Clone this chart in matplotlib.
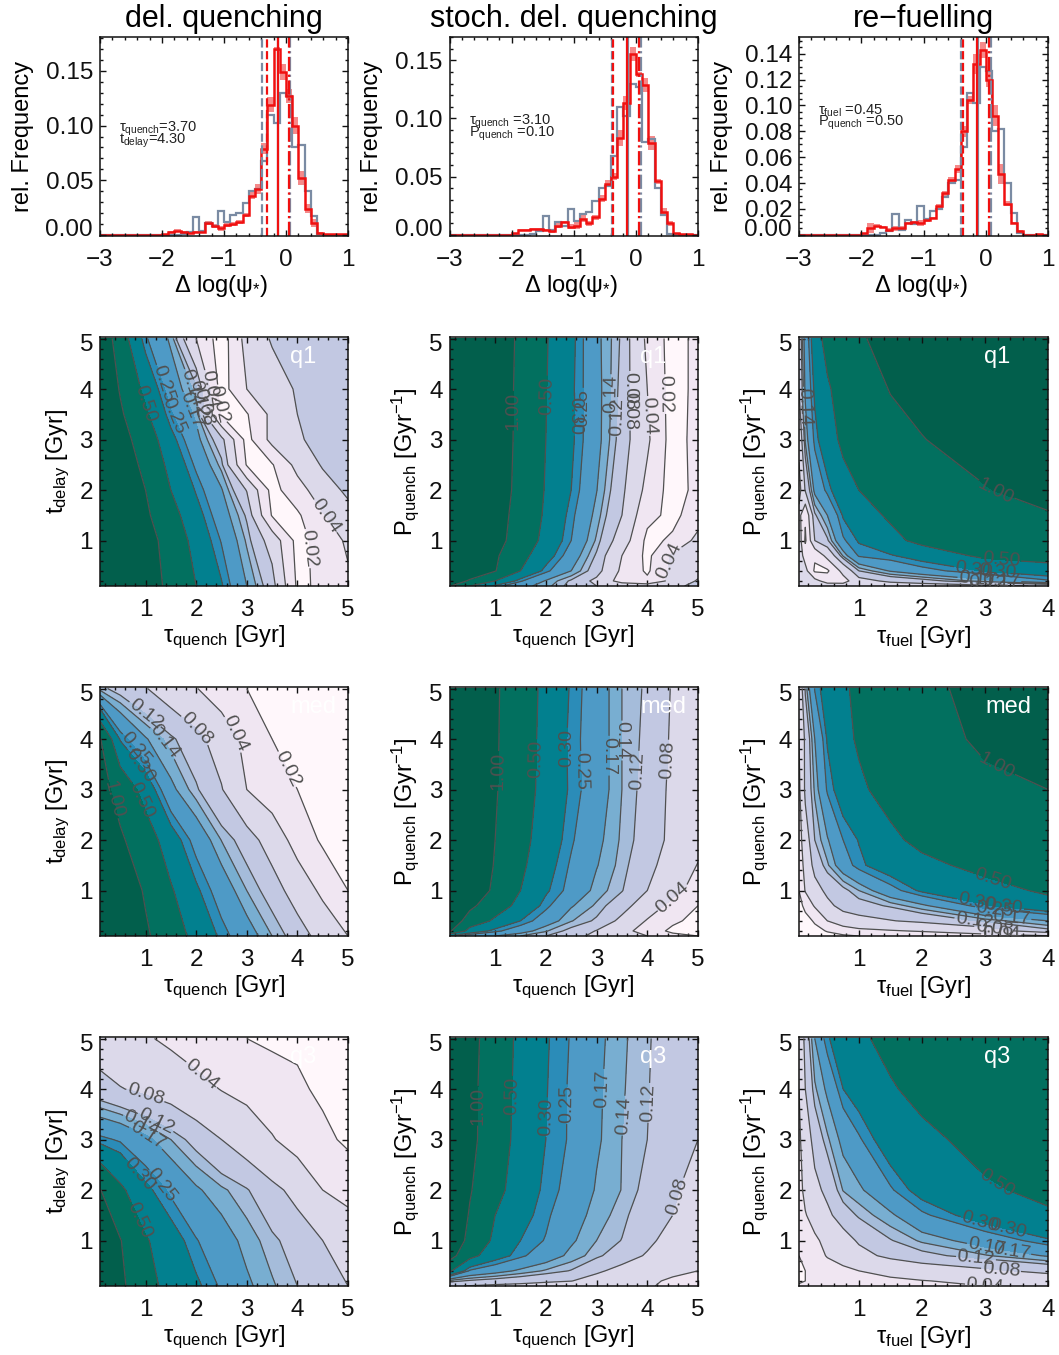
import numpy as np
import matplotlib
matplotlib.use("Agg")
import matplotlib.pyplot as plt
from matplotlib.ticker import MultipleLocator
from matplotlib.transforms import ScaledTranslation

plt.rcParams['font.family'] = ['Liberation Sans', 'DejaVu Sans']
plt.rcParams['mathtext.fontset'] = 'custom'
plt.rcParams['mathtext.rm'] = 'Liberation Sans'
plt.rcParams['mathtext.it'] = 'Liberation Sans:italic'
plt.rcParams['mathtext.bf'] = 'Liberation Sans:bold'
plt.rcParams['axes.unicode_minus'] = True

# Histograms, bins of 0.1 dex from -3 to 1
hist_edges = [-3.0, -2.9, -2.8, -2.7, -2.6, -2.5, -2.4, -2.3, -2.2, -2.1,
              -2.0, -1.9, -1.8, -1.7, -1.6, -1.5, -1.4, -1.3, -1.2, -1.1,
              -1.0, -0.9, -0.8, -0.7, -0.6, -0.5, -0.4, -0.3, -0.2, -0.1,
              0.0, 0.1, 0.2, 0.3, 0.4, 0.5, 0.6, 0.7, 0.8, 0.9, 1.0]
tail = [0, 0, 0, 0, 0, 0, 0, 0, 0, 0]
hist_obs = tail + [0, 0, 0, .001, .003, .016, .004, .011, .008, .022,
                   .012, .018, .020, .029, .040, .042, .068, .110, .102, .130,
                   .127, .080, .082, .040, .017, .001, 0, 0, 0, 0]
hist_del = tail + [.001, .003, .004, .003, .002, .003, .003, .011, .008, .006,
                   .009, .010, .012, .018, .036, .042, .079, .119, .170, .149,
                   .127, .100, .052, .024, .011, .002, .001, .001, .001, .0005]
hist_sto = tail + [.002, .004, .004, .005, .005, .004, .003, .008, .011, .007,
                   .008, .014, .010, .015, .031, .044, .050, .083, .113, .155,
                   .138, .129, .079, .046, .020, .010, .0015, .0005, .0005, 0]
hist_fue = tail + [.001, .005, .007, .006, .004, .005, .005, .009, .0095, .009,
                   .011, .013, .022, .032, .042, .051, .080, .104, .132, .143,
                   .120, .092, .047, .024, .009, .003, 0, 0, .0005, 0]
err_del = tail + [0, .001, .001, .001, .001, .001, .001, .002, .002, .002,
                  .002, .002, .002, .002, .003, .005, .005, .007, .002, .007,
                  .006, .008, .006, .004, .004, .001, 0, 0, 0, 0]
err_sto = tail + [0, .001, .001, .001, .001, .001, .001, .002, .001, .002,
                  .003, .003, .002, .002, .003, .003, .003, .007, .006, .006,
                  .002, .006, .006, .002, .003, .002, 0, 0, 0, 0]
err_fue = tail + [0, .004, .001, .001, .001, .002, .002, .001, .001, .002,
                  .001, .001, .002, .002, .003, .003, .004, .003, .008, .006,
                  .006, .008, .008, .002, .001, .001, 0, 0, 0, 0]

# median / quartile lines: q1, med, q3
lines_obs = [[-0.39, -0.13, 0.065], [-0.39, -0.125, 0.08], [-0.39, -0.125, 0.08]]
lines_mod = [[-0.30, -0.135, 0.054], [-0.365, -0.135, 0.05], [-0.37, -0.135, 0.05]]

hist_ylims = [(-0.001, 0.181), (-0.001, 0.170), (-0.001, 0.153)]
hist_yticks = [[0, .05, .10, .15], [0, .05, .10, .15], [0, .02, .04, .06, .08, .10, .12, .14]]
hist_yminor = [.01, .01, .005]

# Contour levels and colours
levels = [.02, .04, .08, .12, .14, .17, .25, .30, .50, 1.00]
band_colors = ['#fff7fb', '#f0e6f2', '#dcd9ea', '#c2c8e2', '#a5bcda', '#78aed1',
               '#4e9ac6', '#2b8cb8', '#02808f', '#02705f', '#025f4c']

# Grid axes
x_tau = [.1, .5, 1, 1.5, 2, 2.5, 3, 3.5, 4, 4.5, 5]
y_del = [.1, 1, 2, 3, 4, 5]
y_del_q1 = [.1, 1, 1.5, 2, 2.5, 3, 3.5, 4, 5]
y_p = [.1, .2, .4, .7, 1, 1.5, 2, 3, 4, 5]
x_fuel = [.05, .15, .3, .5, .75, 1, 1.5, 2, 3, 4]

# delayed quenching, rows bottom to top
z_del_q1 = [[3.2, 2.2, 1.4, .85, .5, .31, .17, .10, .018, .022, .035],
            [3, 2.0, 1.25, .8, .4, .245, .135, .063, .016, .026, .045],
            [2.8, 1.85, 1.12, .62, .35, .205, .115, .019, .018, .038, .065],
            [2.6, 1.7, 1.0, .5, .29, .175, .078, .016, .03, .06, .09],
            [2.4, 1.5, .85, .42, .235, .13, .019, .019, .05, .085, .1],
            [2.2, 1.3, .72, .34, .19, .095, .016, .05, .075, .095, .115],
            [2.0, 1.1, .55, .26, .16, .018, .019, .048, .08, .095, .11],
            [1.9, .95, .43, .21, .13, .015, .04, .06, .085, .095, .11],
            [1.8, .68, .26, .16, .04, .014, .052, .085, .09, .095, .10]]
z_del_med = [[3, 1.9, 1.1, .68, .42, .28, .2, .14, .105, .063, .04],
             [2.5, 1.6, .93, .53, .32, .21, .14, .105, .06, .035, .02],
             [1.7, 1.1, .68, .37, .22, .139, .104, .06, .031, .018, .013],
             [1.3, .78, .4, .185, .125, .083, .04, .028, .02, .014, .012],
             [1.05, .29, .175, .127, .095, .06, .033, .02, .015, .012, .011],
             [.13, .105, .082, .06, .041, .028, .02, .016, .014, .012, .011]]
z_del_q3 = [[1.6, 1.15, .62, .41, .32, .24, .18, .144, .12, .098, .08],
            [1.4, 1.03, .53, .36, .255, .2, .155, .127, .105, .08, .07],
            [1.03, .56, .33, .235, .178, .146, .123, .092, .068, .04, .03],
            [.27, .24, .185, .14, .107, .08, .06, .042, .03, .023, .018],
            [.095, .082, .072, .063, .05, .039, .033, .027, .022, .018, .018],
            [.06, .052, .043, .035, .028, .023, .02, .018, .018, .019, .019]]

# stochastic delayed quenching
z_sto_q1 = [[1.05, .5, .28, .19, .15, .11, .08, .065, .06, .06, .11],
            [1.7, .9, .5, .26, .165, .115, .07, .03, .023, .05, .085],
            [2.6, 1.8, 1.03, .5, .27, .17, .1, .035, .018, .048, .065],
            [2.8, 1.9, 1.1, .6, .36, .21, .115, .04, .017, .045, .055],
            [3, 2.1, 1.25, .75, .42, .25, .135, .06, .017, .022, .05],
            [3, 2.2, 1.3, .8, .46, .27, .155, .08, .024, .017, .028],
            [3.1, 2.2, 1.35, .85, .48, .3, .172, .09, .033, .015, .024],
            [3.1, 2.3, 1.4, .87, .5, .32, .19, .105, .045, .015, .025],
            [3.1, 2.3, 1.4, .88, .51, .32, .19, .11, .04, .015, .024],
            [3.1, 2.3, 1.42, .9, .52, .33, .185, .115, .035, .015, .024]]
z_sto_med = [[.3, .2, .17, .14, .12, .095, .07, .05, .04, .025, .02],
             [1.1, .4, .27, .2, .143, .11, .078, .05, .03, .017, .014],
             [1.6, .75, .45, .3, .205, .142, .115, .07, .038, .023, .016],
             [2.3, 1.15, .68, .42, .27, .175, .135, .098, .058, .033, .02],
             [2.7, 1.6, .88, .5, .315, .225, .155, .122, .08, .048, .032],
             [2.9, 1.9, .95, .56, .35, .24, .173, .13, .095, .06, .039],
             [3, 2, 1, .6, .385, .26, .185, .135, .105, .07, .048],
             [3, 2.1, 1.05, .67, .41, .285, .205, .14, .108, .072, .055],
             [3, 2.1, 1.07, .68, .42, .28, .205, .14, .112, .075, .058],
             [3, 2.1, 1.08, .7, .43, .29, .205, .14, .115, .077, .06]]
z_sto_q3 = [[.085, .078, .072, .068, .062, .057, .05, .046, .042, .036, .032],
            [.13, .115, .105, .097, .088, .081, .065, .056, .044, .037, .033],
            [.55, .24, .195, .16, .136, .118, .087, .068, .055, .045, .04],
            [1.3, .6, .36, .265, .205, .157, .127, .1, .076, .056, .048],
            [1.6, .85, .44, .3, .245, .178, .14, .119, .09, .065, .055],
            [1.8, .95, .5, .34, .265, .195, .155, .128, .1, .08, .06],
            [1.9, 1.05, .6, .38, .28, .225, .165, .139, .11, .086, .065],
            [2, 1.2, .66, .42, .3, .24, .178, .14, .12, .1, .08],
            [2.1, 1.2, .68, .43, .305, .24, .18, .143, .122, .1, .081],
            [2.1, 1.25, .7, .44, .31, .245, .185, .145, .124, .1, .081]]

# re-fuelling
z_fue_q1 = [[.07, .07, .06, .058, .056, .055, .056, .06, .07, .085],
            [.07, .06, .05, .03, .03, .065, .09, .105, .155, .24],
            [.06, .05, .018, .018, .05, .12, .175, .22, .31, .38],
            [.06, .03, .022, .05, .145, .26, .29, .36, .56, .64],
            [.06, .018, .08, .115, .24, .31, .43, .58, .7, .8],
            [.05, .022, .115, .17, .31, .4, .54, .7, .88, .95],
            [.03, .085, .185, .27, .41, .5, .68, .8, .97, 1.25],
            [.05, .145, .27, .4, .56, .68, .85, .98, 1.3, 1.5],
            [.08, .18, .32, .46, .66, .78, 1.02, 1.2, 1.4, 1.6],
            [.09, .2, .38, .62, .82, .94, 1.2, 1.3, 1.5, 1.7]]
z_fue_med = [[.01, .011, .013, .016, .018, .02, .024, .027, .031, .038],
             [.01, .012, .016, .021, .028, .034, .038, .042, .06, .11],
             [.012, .015, .022, .04, .06, .068, .078, .09, .127, .17],
             [.015, .025, .043, .07, .095, .105, .125, .16, .29, .42],
             [.02, .042, .065, .09, .11, .14, .22, .32, .42, .54],
             [.025, .052, .095, .135, .21, .28, .38, .44, .58, .7],
             [.03, .06, .12, .165, .25, .305, .45, .57, .72, .82],
             [.035, .09, .145, .26, .37, .46, .6, .72, .88, 1.0],
             [.04, .09, .17, .31, .44, .53, .68, .8, 1.1, 1.35],
             [.05, .125, .255, .37, .47, .55, .7, .87, 1.2, 1.4]]
z_fue_q3 = [[.022, .023, .023, .024, .025, .026, .029, .032, .04, .045],
            [.018, .02, .023, .025, .028, .03, .035, .039, .046, .058],
            [.018, .02, .024, .029, .034, .04, .05, .058, .073, .09],
            [.02, .023, .03, .042, .055, .068, .09, .11, .137, .175],
            [.022, .024, .035, .05, .065, .085, .118, .145, .2, .29],
            [.025, .038, .055, .072, .1, .125, .16, .235, .37, .46],
            [.03, .05, .07, .09, .142, .16, .24, .35, .46, .58],
            [.035, .06, .095, .135, .185, .24, .38, .43, .62, .72],
            [.04, .08, .135, .18, .3, .36, .47, .6, .76, .85],
            [.045, .095, .17, .29, .37, .45, .6, .7, .85, 1.0]]

# where the contour labels sit
lab_del_q1 = [(1.1, 3.75), (1.33, 4.1), (1.6, 3.5), (1.85, 4.0), (1.95, 3.8), (1.83, 3.55),
              (2.2, 3.65), (2.35, 4.0), (2.5, 3.7), (4.5, 1.45), (4.35, .85)]
lab_del_med = [(1.0, 4.5), (1.3, 3.9), (1.9, 4.1), (2.72, 4.07), (3.8, 3.4), (.77, 3.77),
               (.93, 3.5), (.93, 2.8), (.5, 2.85)]
lab_del_q3 = [(2.12, 4.3), (1.07, 4.07), (1.23, 3.4), (.9, 3.27), (.93, 2.9), (1.26, 2.05),
              (.74, 2.2), (.83, 1.38)]
lab_sto_q1 = [(1.43, 3.57), (2.09, 3.87), (2.39, 3.47), (2.68, 3.63), (3.2, 3.9), (3.35, 3.45),
              (3.5, 3.57), (3.7, 3.93), (4.07, 3.47), (4.37, 3.9), (4.4, .6)]
lab_sto_med = [(.97, 3.37), (1.89, 3.6), (2.39, 3.83), (2.65, 3.37), (3.2, 3.67), (3.5, 3.97),
               (3.9, 3.37), (4.27, 3.6), (4.53, .82)]
lab_sto_q3 = [(.57, 3.67), (1.22, 3.87), (2.09, 3.44), (2.35, 3.7), (3.2, 4.0), (3.57, 3.47),
              (3.97, 3.73), (4.56, 1.88)]
lab_fue_q1 = [(3.2, 2.08), (3.26, .66), (.13, 3.65), (2.83, .49), (3.2, .39), (2.88, .23),
              (3.26, .23), (3.04, .16)]
lab_fue_med = [(3.2, 3.5), (3.12, 1.22), (3.31, .75), (2.86, .72), (3.15, .56), (3.42, .46),
               (2.83, .39), (3.15, .29), (3.26, .22)]
lab_fue_q3 = [(3.18, 2.13), (3.36, 1.25), (2.91, 1.32), (3.04, .99), (3.42, .79), (2.86, .69),
              (3.26, .49), (3.26, .22)]

W, H = 1059, 1355
col_x = [(100, 348), (449.5, 698), (799, 1048)]
hist_row = (37, 236)
cont_rows = [(337, 586), (687, 936), (1037, 1286)]

fig = plt.figure(figsize=(W / 100, H / 100), dpi=100)


def add_axes(col, row):
    x0, x1 = col
    y0, y1 = row
    return fig.add_axes([x0 / W, 1 - y1 / H, (x1 - x0) / W, (y1 - y0) / H])


def style(ax, xminor, yminor):
    ax.xaxis.set_minor_locator(MultipleLocator(xminor))
    ax.yaxis.set_minor_locator(MultipleLocator(yminor))
    ax.tick_params(which='both', direction='in', top=True, right=True, width=1, colors='#111111')
    ax.tick_params(which='major', length=4.5, labelsize=17.5)
    ax.tick_params(which='minor', length=2.2)
    ax.tick_params(axis='x', which='major', pad=9)
    ax.tick_params(axis='y', which='major', pad=5)
    for s in ax.spines.values():
        s.set_linewidth(1.1)
        s.set_color('#111111')


def nudge_label(label, pixels):
    # IDL keeps the end labels inside the axis
    label.set_transform(label.get_transform() + ScaledTranslation(0, pixels / 100, fig.dpi_scale_trans))


# Top row
titles = ["del. quenching", "stoch. del. quenching", "re\u2212fuelling"]
hists = [hist_del, hist_sto, hist_fue]
errs = [err_del, err_sto, err_fue]
notes = [("\u03c4$_{\\mathrm{quench}}$=3.70", "t$_{\\mathrm{delay}}$=4.30"),
         ("\u03c4$_{\\mathrm{quench}}$ =3.10", "P$_{\\mathrm{quench}}$ =0.10"),
         ("\u03c4$_{\\mathrm{fuel}}$ =0.45", "P$_{\\mathrm{quench}}$ =0.50")]
note_y = [(.525, .465), (.56, .50), (.61, .555)]

for i in range(3):
    ax = add_axes(col_x[i], hist_row)
    red = np.array(hists[i])
    err = np.array(errs[i])
    ax.bar(hist_edges[:-1], 2 * err, bottom=red - err, width=0.1, align='edge', color='#f58a8a', linewidth=0)
    ax.stairs(hist_obs, hist_edges, color='#7a8ba3', linewidth=1.6)
    for v, ls in zip(lines_obs[i], ['--', '-', '-.']):
        ax.axvline(v, color='#7a8ba3', linestyle=ls, linewidth=1.6)
    for v, ls in zip(lines_mod[i], ['--', '-', '-.']):
        ax.axvline(v, color='#f01010', linestyle=ls, linewidth=1.6)
    ax.stairs(red, hist_edges, color='#f01010', linewidth=1.8)
    ax.set_xlim(-3, 1)
    ax.set_ylim(*hist_ylims[i])
    ax.set_xticks([-3, -2, -1, 0, 1])
    ax.set_yticks(hist_yticks[i])
    ax.set_yticklabels(["%.2f" % t for t in hist_yticks[i]])
    style(ax, 0.2, hist_yminor[i])
    nudge_label(ax.get_yticklabels()[0], 7)
    ax.set_xlabel("\u0394 log(\u03c8$_{*}$)", fontsize=17, va='center')
    ax.xaxis.set_label_coords(0.49, -0.25)
    ax.set_ylabel("rel. Frequency", fontsize=17, va='center')
    ax.yaxis.set_label_coords(-0.31, 0.5)
    ax.text(0.5, 1.015, titles[i], transform=ax.transAxes, fontsize=22, ha='center', va='bottom')
    ax.text(0.077, note_y[i][0], notes[i][0], transform=ax.transAxes, fontsize=10.5, color='#222222')
    ax.text(0.077, note_y[i][1], notes[i][1], transform=ax.transAxes, fontsize=10.5, color='#222222')

# Contour rows
grids = [[z_del_q1, z_sto_q1, z_fue_q1],
         [z_del_med, z_sto_med, z_fue_med],
         [z_del_q3, z_sto_q3, z_fue_q3]]
labs = [[lab_del_q1, lab_sto_q1, lab_fue_q1],
        [lab_del_med, lab_sto_med, lab_fue_med],
        [lab_del_q3, lab_sto_q3, lab_fue_q3]]
row_names = ["q1", "med", "q3"]
x_axes = [x_tau, x_tau, x_fuel]
y_axes = [[y_del_q1, y_p, y_p], [y_del, y_p, y_p], [y_del, y_p, y_p]]
x_labels = ["\u03c4$_{\\mathrm{quench}}$ [Gyr]", "\u03c4$_{\\mathrm{quench}}$ [Gyr]", "\u03c4$_{\\mathrm{fuel}}$ [Gyr]"]
y_labels = ["t$_{\\mathrm{delay}}$ [Gyr]", "P$_{\\mathrm{quench}}$ [Gyr$^{-1}$]", "P$_{\\mathrm{quench}}$ [Gyr$^{-1}$]"]
y_label_x = [-0.17, -0.18, -0.18]
name_x = {"q1": [0.82, 0.82, 0.795], "med": [0.86, 0.86, 0.84], "q3": [0.82, 0.82, 0.795]}
log_levels = np.log10(levels)

for r in range(3):
    for c in range(3):
        ax = add_axes(col_x[c], cont_rows[r])
        z = np.log10(np.array(grids[r][c]))
        ax.contourf(x_axes[c], y_axes[r][c], z, levels=log_levels, colors=band_colors, extend='both')
        cs = ax.contour(x_axes[c], y_axes[r][c], z, levels=log_levels, colors='#505050',
                        linewidths=0.9, linestyles='solid')
        ax.clabel(cs, fmt=lambda v: "%.2f" % 10 ** v, manual=labs[r][c], fontsize=14, colors='#505050', inline_spacing=1)
        ax.set_xlim(x_axes[c][0], x_axes[c][-1])
        ax.set_ylim(0.1, 5.03)
        ax.set_xticks([1, 2, 3, 4, 5] if c < 2 else [1, 2, 3, 4])
        ax.set_yticks([1, 2, 3, 4, 5])
        style(ax, 0.2, 0.2)
        nudge_label(ax.get_yticklabels()[-1], -4)
        ax.set_xlabel(x_labels[c], fontsize=17, va='center')
        ax.xaxis.set_label_coords(0.5, -0.205)
        ax.set_ylabel(y_labels[c], fontsize=17, va='center')
        ax.yaxis.set_label_coords(y_label_x[c], 0.5)
        ax.text(name_x[row_names[r]][c], 0.92, row_names[r], transform=ax.transAxes, fontsize=17,
                color='white', ha='center', va='center')

fig.savefig("out.png", dpi=100)
